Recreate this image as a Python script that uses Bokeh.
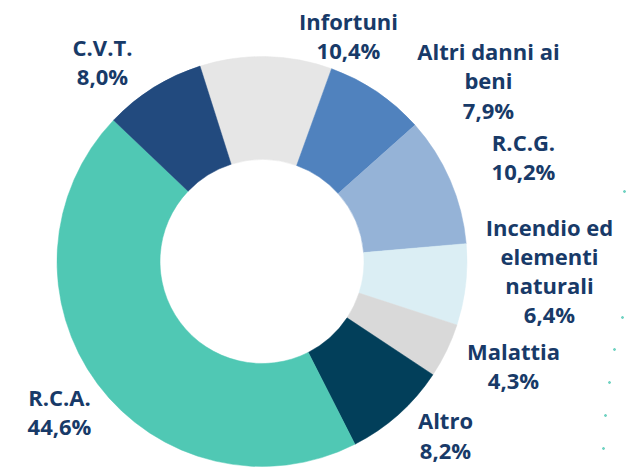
import numpy as np
from bokeh.plotting import figure
from bokeh.models import Range1d, ColumnDataSource
from bokeh.core.properties import value
from bokeh.embed import file_html
from bokeh.resources import INLINE

# Data (clockwise from the slice at the top)
categories = ["Infortuni", "Altri danni ai beni", "R.C.G.", "Incendio ed elementi naturali",
              "Malattia", "Altro", "R.C.A.", "C.V.T."]
shares = [10.4, 7.9, 10.2, 6.4, 4.3, 8.2, 44.6, 8.0]
label_texts = ["Infortuni\n10,4%", "Altri danni ai\nbeni\n7,9%", "R.C.G.\n10,2%",
               "Incendio ed\nelementi\nnaturali\n6,4%", "Malattia\n4,3%", "Altro\n8,2%",
               "R.C.A.\n44,6%", "C.V.T.\n8,0%"]
colors = ["#E6E6E6", "#5082BE", "#95B3D7", "#DBEEF4", "#D9D9D9", "#023F5A", "#50C8B4", "#224A7E"]

# layout (pixel-like coordinates, y up)
W, H = 628, 467
cx, cy = 261.5, 467 - 261
r_out, r_in = 205, 102
first_angle = -17.6  # degrees clockwise from 12 o'clock where first slice starts
label_x = [348, 488, 523, 549, 513, 445, 59, 102]
label_y_pix = [35, 80, 156, 270, 365, 434.5, 411, 61]
dot_x = [624, 622, 614, 609, 605, 603]
dot_y_pix = [191, 317, 349, 382, 415, 448]

vals = np.array(shares)
cum = np.concatenate([[0], np.cumsum(vals)]) / vals.sum() * 360.0
start_cw = first_angle + cum[:-1]
end_cw = first_angle + cum[1:]
start = np.deg2rad(90 - start_cw)
end = np.deg2rad(90 - end_cw)

src = ColumnDataSource(dict(start=start, end=end, color=colors, cat=categories))

p = figure(width=W, height=H, output_backend="svg", toolbar_location=None,
           x_range=Range1d(0, W), y_range=Range1d(467 - H, 467),
           min_border=0)
p.axis.visible = False
p.grid.visible = False
p.outline_line_color = None
p.background_fill_color = "white"

p.annular_wedge(x=cx, y=cy, inner_radius=r_in, outer_radius=r_out,
                start_angle="start", end_angle="end", direction="clock",
                fill_color="color", line_color="color", line_width=0.5, source=src)

p.scatter(x=dot_x, y=[467 - v for v in dot_y_pix], size=2, color="#50C8B4", alpha=0.8)

lsrc = ColumnDataSource(dict(x=label_x, y=[467 - v for v in label_y_pix], t=label_texts))
p.text(x="x", y="y", text="t", source=lsrc, text_align="center", text_baseline="middle",
       text_font=value("Open Sans"), text_font_style="bold", text_font_size="22px",
       text_color="#183A68", text_line_height=0.97)

open("out.html", "w").write(file_html(p, INLINE))
